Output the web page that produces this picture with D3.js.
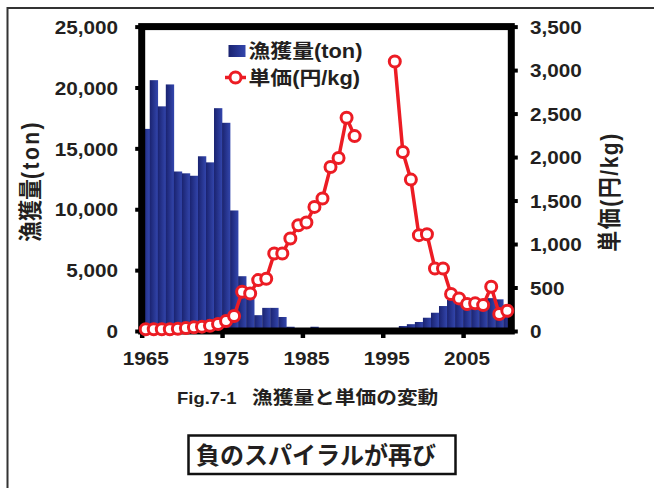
<!DOCTYPE html>
<html><head><meta charset="utf-8">
<script src="https://cdn.jsdelivr.net/npm/d3@7"></script>
<style>body{margin:0;background:#fff} svg{display:block}</style>
</head><body>
<script>
const years = [1965,1966,1967,1968,1969,1970,1971,1972,1973,1974,1975,1976,1977,1978,1979,1980,1981,1982,1983,1984,1985,1986,1987,1988,1989,1990,1991,1992,1993,1994,1995,1996,1997,1998,1999,2000,2001,2002,2003,2004,2005,2006,2007,2008,2009,2010];
const catchTon = [16600,20600,18450,20250,13100,12950,12750,14350,13850,18300,17100,9900,4500,2900,1300,1900,1900,1150,350,150,200,350,200,150,150,100,70,0,0,0,150,250,410,560,740,1090,1500,2050,2550,2900,2450,2300,2300,2700,2600,2150];
const priceYen = [20,20,20,20,26,34,42,50,61,80,115,172,451,432,585,600,891,891,1063,1216,1247,1427,1523,1885,1989,2452,2241,null,null,null,null,3098,2058,1741,1102,1113,719,719,425,375,310,318,298,509,195,233];
const leftTicks = [0,5000,10000,15000,20000,25000];
const rightTicks = [0,500,1000,1500,2000,2500,3000,3500];
const xLabelYears = [1965,1975,1985,1995,2005];
const legendCatch = "漁獲量(ton)";
const legendPrice = "単価(円/kg)";
const titleLeft = "漁獲量";
const titleLeftUnit = "(ton)";
const titleRight = "単価(円/kg)";
const captionFig = "Fig.7-1";
const captionText = "漁獲量と単価の変動";
const boxText = "負のスパイラルが再び";

const W = 654, H = 488;
const FONT = '"Liberation Sans", Arial, "Noto Sans CJK JP", sans-serif';
const INK = "#231f20", RED = "#ec1c24";
const SX = 1.12;
const L = 141.7, R = 511.3, T = 26.6, B = 331;

const svg = d3.select("body").append("svg").attr("width", W).attr("height", H)
  .style("font-family", FONT).style("font-weight", "bold");

const defs = svg.append("defs");
const grad = defs.append("linearGradient").attr("id", "barGrad").attr("x1", 0).attr("x2", 1).attr("y1", 0).attr("y2", 0);
grad.append("stop").attr("offset", "0%").attr("stop-color", "#1a2370");
grad.append("stop").attr("offset", "100%").attr("stop-color", "#3346ad");

// outer border
svg.append("path").attr("d", "M7.5,495V8H660").attr("fill", "none").attr("stroke", "#333").attr("stroke-width", 2);

const x = d3.scaleBand().domain(years).range([L, R]).padding(0);
const xEdge = d3.scaleLinear().domain([years[0], years[years.length - 1] + 1]).range([L, R]);
const yL = d3.scaleLinear().domain([0, 25000]).range([B, T]);
const yR = d3.scaleLinear().domain([0, 3500]).range([B, T]);

const data = years.map((yr, i) => ({yr, c: catchTon[i], p: priceYen[i]}));

// bars
svg.append("g").selectAll("rect").data(data).join("rect")
  .attr("x", d => x(d.yr)).attr("width", x.bandwidth() + 0.3)
  .attr("y", d => yL(d.c)).attr("height", d => yL(0) - yL(d.c))
  .attr("fill", "url(#barGrad)");

// left axis
const gL = svg.append("g").attr("transform", `translate(${L},0)`)
  .call(d3.axisLeft(yL).tickValues(leftTicks).tickFormat(d3.format(",")).tickSize(6.5));
gL.select(".domain").remove();
gL.selectAll(".tick line").attr("stroke", "#000").attr("stroke-width", 4);
gL.selectAll(".tick text").attr("x", 0).attr("dy", "0.36em").attr("fill", INK)
  .attr("font-size", 18.5).attr("text-anchor", "end")
  .attr("transform", `translate(${118 - L},0) scale(${SX},1)`);

// right axis
const gR = svg.append("g").attr("transform", `translate(${R},0)`)
  .call(d3.axisRight(yR).tickValues(rightTicks).tickFormat(d3.format(",")).tickSize(6.5));
gR.select(".domain").remove();
gR.selectAll(".tick line").attr("stroke", "#000").attr("stroke-width", 4);
gR.selectAll(".tick text").attr("x", 0).attr("dy", "0.36em").attr("fill", INK)
  .attr("font-size", 18.5).attr("text-anchor", "start")
  .attr("transform", `translate(${530 - R},0) scale(${SX},1)`);

// bottom ticks
const gB = svg.append("g").attr("transform", `translate(0,${B})`)
  .call(d3.axisBottom(xEdge).tickValues(xLabelYears).tickFormat("").tickSize(7));
gB.select(".domain").remove();
gB.selectAll(".tick line").attr("stroke", "#000").attr("stroke-width", 4.5);

// bottom labels
const gBL = svg.append("g").attr("transform", `translate(0,${B})`)
  .call(d3.axisBottom(x).tickValues(xLabelYears).tickSize(0));
gBL.select(".domain").remove();
gBL.selectAll(".tick text").attr("y", 0).attr("dy", "0.36em").attr("fill", INK)
  .attr("font-size", 18.5).attr("text-anchor", "middle")
  .attr("transform", `translate(0,27.3) scale(${SX},1)`);

// plot frame
svg.append("rect").attr("x", L).attr("y", T).attr("width", R - L).attr("height", B - T)
  .attr("fill", "none").attr("stroke", "#000").attr("stroke-width", 7);

// price line
const line = d3.line().defined(d => d.p != null)
  .x(d => x(d.yr) + x.bandwidth() / 2).y(d => yR(d.p));
svg.append("path").datum(data).attr("d", line)
  .attr("fill", "none").attr("stroke", RED).attr("stroke-width", 3.5).attr("stroke-linejoin", "round");
svg.append("g").selectAll("circle").data(data.filter(d => d.p != null)).join("circle")
  .attr("cx", d => x(d.yr) + x.bandwidth() / 2).attr("cy", d => yR(d.p)).attr("r", 5.5)
  .attr("fill", "#fff").attr("stroke", RED).attr("stroke-width", 3);

// legend
svg.append("rect").attr("x", 228.5).attr("y", 45).attr("width", 17).attr("height", 12).attr("fill", "url(#barGrad)");
svg.append("g").attr("transform", `translate(248.5,51) scale(${SX},1)`)
  .append("text").attr("dy", "0.36em").attr("font-size", 19.5).attr("fill", INK).text(legendCatch);
svg.append("line").attr("x1", 225).attr("x2", 246).attr("y1", 77.5).attr("y2", 77.5).attr("stroke", RED).attr("stroke-width", 3.5);
svg.append("circle").attr("cx", 235.5).attr("cy", 77.5).attr("r", 5.5).attr("fill", "#fff").attr("stroke", RED).attr("stroke-width", 3);
svg.append("g").attr("transform", `translate(248.5,77.5) scale(${SX},1)`)
  .append("text").attr("dy", "0.36em").attr("font-size", 19.5).attr("fill", INK).text(legendPrice);

// axis titles
const tl = svg.append("g").attr("transform", `translate(31,181) scale(${SX},1) rotate(-90)`)
  .append("text").attr("text-anchor", "middle").attr("dy", "0.36em").attr("font-size", 21).attr("fill", INK);
tl.append("tspan").text(titleLeft);
tl.append("tspan").attr("letter-spacing", 2.5).text(titleLeftUnit);
svg.append("g").attr("transform", `translate(610,192) scale(${SX},1) rotate(-90)`)
  .append("text").attr("text-anchor", "middle").attr("dy", "0.36em").attr("font-size", 21).attr("fill", INK)
  .attr("letter-spacing", 1.5).text(titleRight);

// caption
const cap = svg.append("g").attr("transform", `translate(177,398) scale(${SX},1)`)
  .append("text").attr("dy", "0.36em").attr("fill", INK);
cap.append("tspan").attr("x", 0).attr("font-size", 16.5).text(captionFig);
cap.append("tspan").attr("x", (252 - 177) / SX).attr("font-size", 18.5).text(captionText);

// boxed note
svg.append("rect").attr("x", 188.5).attr("y", 435.5).attr("width", 267).attr("height", 38.5)
  .attr("fill", "none").attr("stroke", "#111").attr("stroke-width", 2.5);
svg.append("text").attr("x", 196).attr("y", 455).attr("dy", "0.36em").attr("font-size", 24)
  .attr("font-family", '"Noto Sans CJK JP", sans-serif').attr("fill", INK).text(boxText);
</script>
</body></html>
